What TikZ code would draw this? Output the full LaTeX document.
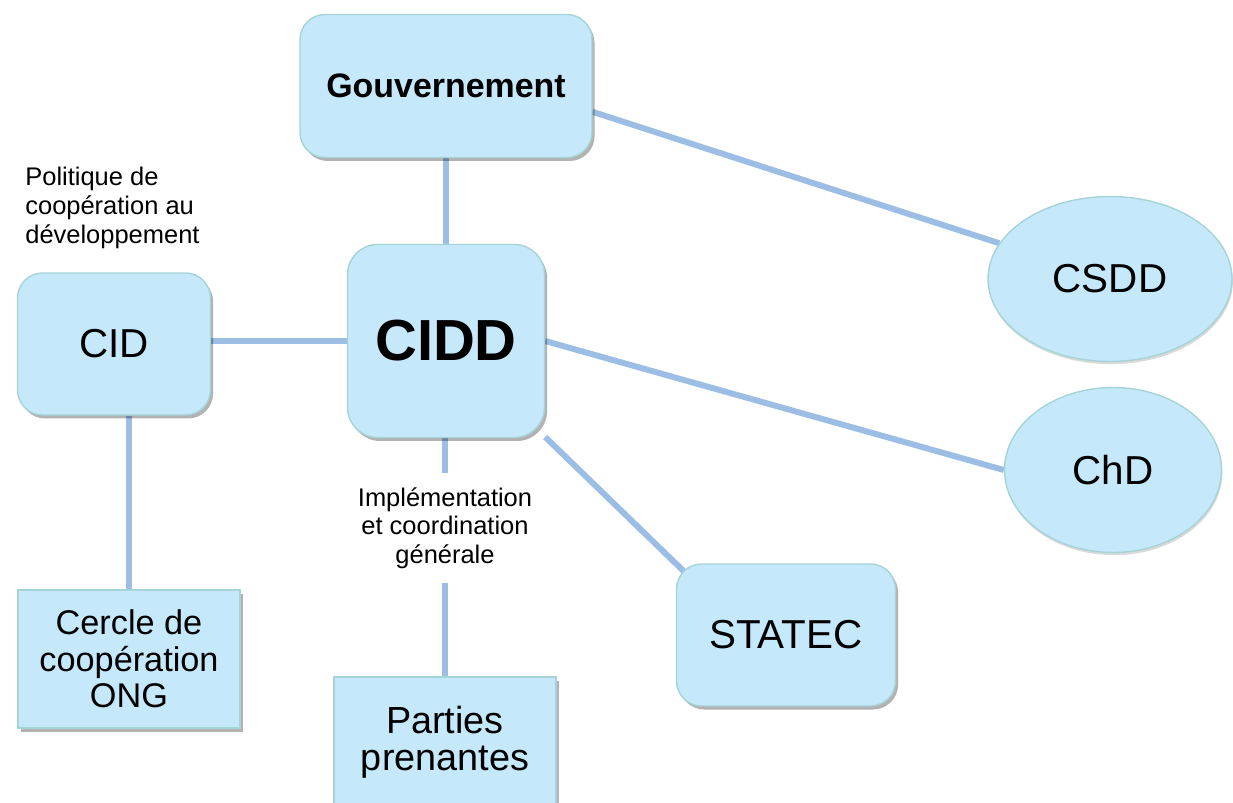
\documentclass[tikz,border=0pt]{standalone}
\usepackage{fontspec}
\setmainfont{Liberation Sans}
\usetikzlibrary{shapes.geometric,shadows,backgrounds,calc}

\definecolor{boxfill}{RGB}{198,232,251}
\definecolor{boxline}{RGB}{165,212,214}
\definecolor{linkblue}{RGB}{156,190,228}

\begin{document}
\begin{tikzpicture}[x=0.02cm, y=-0.02cm,
base/.style={draw=boxline, fill=boxfill, line width=0.8pt, align=center, inner sep=0pt},
shade/.style={drop shadow={shadow xshift=1.5pt, shadow yshift=-2pt, fill=black, opacity=0.3}},
box/.style={base, shade, rounded corners=0.5cm},
sqbox/.style={base, shade},
oval/.style={base, ellipse, drop shadow={shadow xshift=0.5pt, shadow yshift=-1.5pt, fill=black, opacity=0.15}},
link/.style={draw=linkblue, line width=3.4pt},
note/.style={align=center, inner sep=0pt, font=\fontsize{14.5}{16.3}\selectfont},
big/.style={font=\fontsize{23}{23}\selectfont}
]
\useasboundingbox (0,0) rectangle (1233,803);

\node[box, minimum width=5.84cm, minimum height=2.86cm, font=\bfseries\fontsize{19.3}{20}\selectfont] (gouv) at (446,86) {Gouvernement};
\node[box, rounded corners=0.6cm, minimum width=3.94cm, minimum height=3.86cm, font=\bfseries\fontsize{33}{33}\selectfont] (cidd) at (446,341) {CIDD};
\node[box, big, minimum width=3.86cm, minimum height=2.84cm] (cid) at (114,344) {CID};
\node[oval, big, minimum width=4.88cm, minimum height=3.3cm] (csdd) at (1110,279) {CSDD};
\node[oval, big, minimum width=4.34cm, minimum height=3.3cm] (chd) at (1113,470) {ChD};
\node[box, big, minimum width=4.38cm, minimum height=2.84cm] (statec) at (786,635) {STATEC};
\node[sqbox, minimum width=4.44cm, minimum height=2.76cm, font=\fontsize{19.5}{20.7}\selectfont] (cercle) at (129,659) {Cercle de\\coopération\\ONG};
\node[sqbox, minimum width=4.44cm, minimum height=2.6cm, font=\fontsize{21.5}{21}\selectfont] (parties) at (445,742) {Parties\\prenantes};

% labels
\node[note, minimum height=2.2cm] (impl) at (445,528) {Implémentation\\et coordination\\générale};
\node[note, align=left, anchor=west] (politique) at (25,208) {Politique de\\coopération au\\développement};

% links
\begin{scope}[on background layer]
\draw[link] (gouv.south) -- (cidd.north);
\draw[link] (gouv.-10) -- (csdd);
\draw[link] (cidd.west -| cid.east) -- (cidd.west);
\draw[link] (cercle.north |- cid.south) -- (cercle.north);
\draw[link] (cidd.east) -- (chd.west);
\draw[link] (cidd) -- ($(statec.north west)+(8,8)$);
\draw[link] (impl.north |- cidd.south) -- (impl.north);
\draw[link] (impl.south) -- (parties.north);
\end{scope}
\end{tikzpicture}
\end{document}
